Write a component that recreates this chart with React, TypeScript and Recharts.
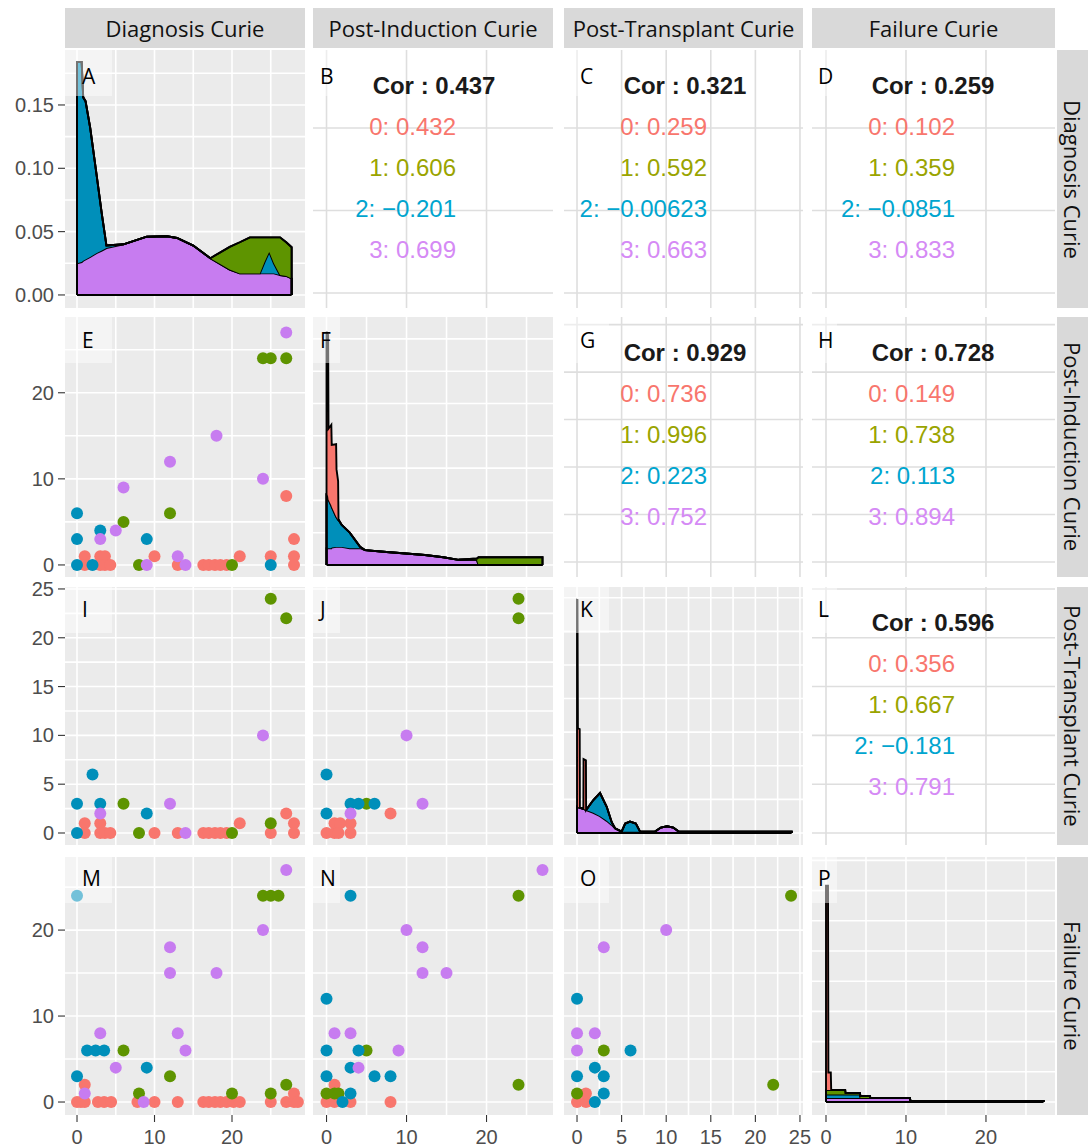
import React from "react";
import { ComposedChart, Scatter, Area, XAxis, YAxis, CartesianGrid, ReferenceLine } from "recharts";

const STRIP_FONT = "'Open Sans', 'Noto Sans', sans-serif";
const NUM_FONT = "'Liberation Sans', Arial, sans-serif";

const groupColors = ["#F8766D", "#5E9400", "#008FBA", "#C77CF0"];
const corColors = ["#F8766D", "#9AA400", "#00A5CF", "#D58AF5"];

const variables = ["Diagnosis Curie", "Post-Induction Curie", "Post-Transplant Curie", "Failure Curie"];
const panelLetters = ["A", "B", "C", "D", "E", "F", "G", "H", "I", "J", "K", "L", "M", "N", "O", "P"];

// panel grid (pixels of the page)
const cols = [
  { left: 65, width: 240 },
  { left: 313, width: 240 },
  { left: 564, width: 239 },
  { left: 812, width: 243 },
];
const rows = [
  { top: 50, height: 258 },
  { top: 317, height: 260 },
  { top: 587, height: 258 },
  { top: 857, height: 258 },
];
const PAD_T = 12;
const PAD_R = 16;
const Y_AXIS_W = 60;
const X_AXIS_H = 36;
const letterLeft = [17, 7, 16, 6];
const letterMid = [26, 23, 22, 21];

// scales of each variable
const colDomain: [number, number][] = [[-1.55, 29.42], [-1.69, 28.31], [-1.46, 25.34], [-1.75, 28.63]];
const colMajor = [[0, 10, 20], [0, 10, 20], [0, 5, 10, 15, 20, 25], [0, 10, 20]];
const colMinor = [[5, 15, 25], [5, 15, 25], [2.5, 7.5, 12.5, 17.5, 22.5], [5, 15, 25]];
const rowDomain: [number, number][] = [[-1.82, 29.45], [-1.4, 28.8], [-1.23, 25.2], [-1.51, 28.5]];
const rowMajor = [[0, 10, 20], [0, 10, 20], [0, 5, 10, 15, 20, 25], [0, 10, 20]];
const rowMinor = [[], [5, 15, 25], [2.5, 7.5, 12.5, 17.5, 22.5], [5, 15, 25]];
const corRowDomain: [number, number][] = [[-1.82, 29.45], [-1.58, 25.8], [-1.23, 25.2]];
const corRowBreaks = [[0, 10, 20], [0, 5, 10, 15, 20, 25], [0, 5, 10, 15, 20, 25]];

// density panels (diagonal)
const diagDomain: [number, number][] = [[-0.0103, 0.1934], [-0.0186, 0.3839], [-0.0179, 0.366], [-0.0215, 0.4056]];
const diagGrid = [
  [0, 0.025, 0.05, 0.075, 0.1, 0.125, 0.15, 0.175],
  [0, 0.05, 0.1, 0.15, 0.2, 0.25, 0.3, 0.35],
  [0, 0.05, 0.1, 0.15, 0.2, 0.25, 0.3, 0.35],
  [0, 0.05, 0.1, 0.15, 0.2, 0.25, 0.3, 0.35, 0.4],
];
const densityTicksA = [0, 0.05, 0.1, 0.15];

const densA_x = [0, 0, 0.6, 0.8, 1.1, 1.7, 2.5, 3.2, 3.8, 6, 9, 11.6, 12.9, 15, 17.2, 19.7, 21.0, 22.3, 23.6, 24.2, 24.8, 25.4, 26.2, 27.0, 27.7, 27.7];
const densA_g3 = [0, 0.025, 0.026, 0.027, 0.028, 0.03, 0.033, 0.035, 0.037, 0.04, 0.046, 0.0463, 0.045, 0.039, 0.029, 0.02, 0.017, 0.017, 0.017, 0.017, 0.017, 0.017, 0.0157, 0.015, 0.013, 0];
const densA_g2 = [0, 0.159, 0.158, 0.129, 0.125, 0.102, 0.063, 0.029, 0.002, 0, 0, 0, 0, 0, 0, 0, 0, 0, 0, 0.009, 0.017, 0.008, 0, 0, 0, 0];
const densA_g1 = [0, 0, 0, 0, 0, 0, 0, 0, 0, 0, 0, 0, 0, 0, 0, 0.018, 0.0246, 0.0285, 0.0285, 0.0195, 0.0115, 0.0205, 0.0298, 0.0266, 0.0247, 0];

const densF_x = [0, 0, 0.2, 0.25, 0.6, 0.65, 1.2, 1.25, 1.45, 1.5, 1.9, 2.9, 4.2, 4.8, 7.5, 12.3, 14.6, 16.5, 18.8, 19.0, 27.0, 27.0];
const densF_g3 = [0, 0.026, 0.026, 0.026, 0.026, 0.027, 0.028, 0.028, 0.028, 0.028, 0.028, 0.026, 0.026, 0.023, 0.02, 0.0155, 0.012, 0.008, 0.008, 0, 0, 0];
const densF_g2 = [0, 0.085, 0.08, 0.075, 0.066, 0.063, 0.047, 0.046, 0.042, 0.042, 0.034, 0.024, 0.002, 0, 0, 0, 0, 0, 0, 0, 0, 0];
const densF_g1 = [0, 0, 0, 0, 0, 0, 0, 0, 0, 0, 0, 0, 0, 0, 0, 0, 0, 0, 0.002, 0.012, 0.012, 0];
const densF_g0 = [0, 0.25, 0.25, 0.11, 0.125, 0.096, 0.112, 0.074, 0.06, 0, 0, 0, 0, 0, 0, 0, 0, 0, 0, 0, 0, 0];

const densK_x = [0, 0, 0.05, 0.1, 0.3, 0.32, 0.71, 0.73, 1.0, 1.02, 1.83, 2.58, 3.33, 3.89, 4.26, 5.0, 5.4, 5.94, 6.6, 7.07, 8.75, 9.4, 10.1, 10.8, 11.4, 24.07, 24.07];
const densK_g3 = [0, 0.039, 0.0388, 0.0387, 0.0375, 0.0374, 0.036, 0.036, 0.034, 0.034, 0.03, 0.025, 0.018, 0.012, 0.007, 0.002, 0.002, 0.002, 0.002, 0.002, 0.002, 0.008, 0.01, 0.008, 0.002, 0.002, 0];
const densK_g2 = [0, 0, 0, 0, 0, 0, 0, 0, 0, 0, 0.019, 0.0345, 0.021, 0.004, 0, 0, 0.012, 0.015, 0.012, 0, 0, 0, 0, 0, 0, 0, 0];
const densK_g0 = [0, 0.308, 0.308, 0.117, 0.117, 0, 0, 0.074, 0.074, 0, 0, 0, 0, 0, 0, 0, 0, 0, 0, 0, 0, 0, 0, 0, 0, 0, 0];

const densP_x = [0, 0, 0.25, 0.3, 0.6, 0.65, 2.4, 2.45, 4.25, 4.3, 5.5, 5.55, 10.5, 10.55, 27.2, 27.2];
const densP_g3 = [0, 0.0066, 0.0066, 0.0066, 0.0066, 0.0066, 0.0066, 0.0066, 0.0066, 0.0066, 0.0066, 0.0066, 0.0066, 0.0017, 0.0017, 0];
const densP_g2 = [0, 0.0058, 0.0058, 0.0058, 0.0058, 0.0058, 0.0058, 0.0058, 0.0058, 0, 0, 0, 0, 0, 0, 0];
const densP_g1 = [0, 0.0075, 0.0075, 0.0075, 0.0075, 0.0075, 0.0075, 0.0025, 0.0025, 0.0033, 0.0033, 0, 0, 0, 0, 0];
const densP_g0 = [0, 0.338, 0.338, 0.029, 0.029, 0, 0, 0, 0, 0, 0, 0, 0, 0, 0, 0];

// scatter panels: [x, y, group]
type Pt = [number, number, number];
const pointsE: Pt[] = [
  [27, 27, 3], [18, 15, 3], [12, 12, 3], [24, 10, 3], [6, 9, 3], [3, 3, 3], [5, 4, 3], [13, 1, 3], [9, 0, 3], [14, 0, 3],
  [24, 24, 1], [25, 24, 1], [27, 24, 1], [6, 5, 1], [12, 6, 1], [8, 0, 1], [20, 0, 1],
  [0, 6, 2], [0, 3, 2], [3, 4, 2], [9, 3, 2], [0, 0, 2], [2, 0, 2], [25, 0, 2],
  [27, 8, 0], [28, 3, 0], [1, 1, 0], [3, 1, 0], [3.6, 1, 0], [10, 1, 0], [21, 1, 0], [25, 1, 0], [28, 1, 0],
  [1, 0, 0], [3, 0, 0], [3.6, 0, 0], [4.3, 0, 0], [13, 0, 0], [16.3, 0, 0], [17, 0, 0], [17.8, 0, 0], [18.5, 0, 0], [19.3, 0, 0], [28, 0, 0],
];
const pointsI: Pt[] = [
  [25, 24, 1], [27, 22, 1], [6, 3, 1], [25, 1, 1], [8, 0, 1], [20, 0, 1],
  [24, 10, 3], [3, 2, 3], [12, 3, 3], [14, 0, 3],
  [2, 6, 2], [0, 3, 2], [3, 3, 2], [9, 2, 2], [0, 0, 2],
  [1, 1, 0], [3, 1, 0], [21, 1, 0], [27, 2, 0], [28, 1, 0], [1, 0, 0], [3, 0, 0], [3.6, 0, 0], [4.3, 0, 0], [10, 0, 0],
  [13, 0, 0], [16.3, 0, 0], [17, 0, 0], [17.8, 0, 0], [18.5, 0, 0], [19.3, 0, 0], [25, 0, 0], [28, 0, 0],
];
const pointsM: Pt[] = [
  [27, 27, 3], [24, 20, 3], [12, 18, 3], [12, 15, 3], [18, 15, 3], [3, 8, 3], [13, 8, 3], [14, 6, 3], [5, 4, 3], [1, 1, 3], [8.6, 0, 3],
  [0, 24, 2], [1.3, 6, 2], [2.4, 6, 2], [3.5, 6, 2], [9, 4, 2], [0, 3, 2],
  [24, 24, 1], [25, 24, 1], [26, 24, 1], [6, 6, 1], [12, 3, 1], [8, 1, 1], [20, 1, 1], [25, 1, 1], [27, 2, 1],
  [1, 2, 0], [28, 1, 0], [0, 0, 0], [0.5, 0, 0], [1, 0, 0], [2.7, 0, 0], [3.5, 0, 0], [4.4, 0, 0], [7.8, 0, 0], [10, 0, 0],
  [13, 0, 0], [16.3, 0, 0], [17, 0, 0], [17.8, 0, 0], [18.5, 0, 0], [19.3, 0, 0], [20.2, 0, 0], [21, 0, 0], [25, 0, 0],
  [27, 0, 0], [28, 0, 0], [28.5, 0, 0],
];
const pointsJ: Pt[] = [
  [24, 24, 1], [24, 22, 1], [5, 3, 1],
  [10, 10, 3], [12, 3, 3], [3, 2, 3],
  [0, 6, 2], [0, 2, 2], [3, 3, 2], [4, 3, 2], [6, 3, 2],
  [8, 2, 0], [3, 1, 0], [3, 0, 0], [0, 0, 0], [1, 0, 0], [1, 1, 0], [1.7, 1, 0], [1.5, 0, 0],
];
const pointsN: Pt[] = [
  [27, 27, 3], [10, 20, 3], [12, 18, 3], [12, 15, 3], [15, 15, 3], [1, 8, 3], [3, 8, 3], [9, 6, 3], [4, 4, 3],
  [3, 24, 2], [0, 12, 2], [0, 6, 2], [4, 6, 2], [3, 4, 2], [0, 3, 2], [6, 3, 2], [8, 3, 2], [3, 1, 2], [2, 0, 2],
  [24, 24, 1], [5, 6, 1], [24, 2, 1], [0, 1, 1], [1, 1, 1], [1.5, 1, 1],
  [1, 2, 0], [0, 0, 0], [1, 0, 0], [3, 0, 0], [8, 0, 0],
];
const pointsO: Pt[] = [
  [24, 24, 1], [3, 6, 1], [22, 2, 1], [0, 1, 1],
  [10, 20, 3], [3, 18, 3], [0, 8, 3], [2, 8, 3], [0, 6, 3],
  [0, 12, 2], [6, 6, 2], [2, 4, 2], [0, 3, 2], [3, 3, 2], [3, 1, 2], [2, 0, 2],
  [0, 0, 0], [1, 0, 0], [1, 1, 0],
];

// correlation panels: overall, then groups 0..3
const corB = ["0.437", "0.432", "0.606", "\u22120.201", "0.699"];
const corC = ["0.321", "0.259", "0.592", "\u22120.00623", "0.663"];
const corD = ["0.259", "0.102", "0.359", "\u22120.0851", "0.833"];
const corG = ["0.929", "0.736", "0.996", "0.223", "0.752"];
const corH = ["0.728", "0.149", "0.738", "0.113", "0.894"];
const corL = ["0.596", "0.356", "0.667", "\u22120.181", "0.791"];

const tickText = { fill: "#4D4D4D", fontSize: 20, fontFamily: NUM_FONT };
const tickLine = { stroke: "#333333", strokeWidth: 1.1 };

type PanelProps = {
  c: number;
  r: number;
  yDomain: [number, number];
  yGrid: number[];
  xGrid: number[];
  yTicks?: number[];
  yFormat?: (v: number) => string;
  data?: any[];
  white?: boolean;
  children?: React.ReactNode;
};

function PanelChart({ c, r, yDomain, yGrid, xGrid, yTicks, yFormat, data, white, children }: PanelProps) {
  const showY = c === 0;
  const showX = r === 3;
  const yW = showY ? Y_AXIS_W : 0;
  const xH = showX ? X_AXIS_H : 0;
  return (
    <div style={{ position: "absolute", left: cols[c].left - yW, top: rows[r].top - PAD_T }}>
      <ComposedChart
        width={cols[c].width + yW + PAD_R}
        height={rows[r].height + xH + PAD_T}
        data={data}
        margin={{ top: PAD_T, right: PAD_R, bottom: 0, left: 0 }}
      >
        <CartesianGrid
          fill={white ? "#FFFFFF" : "#EBEBEB"}
          fillOpacity={1}
          stroke={white ? "#DEDEDE" : "#FFFFFF"}
          strokeWidth={1.6}
          horizontalValues={yGrid}
          verticalValues={xGrid}
        />
        <XAxis
          type="number"
          dataKey="x"
          domain={colDomain[c]}
          allowDataOverflow
          hide={!showX}
          height={xH}
          ticks={colMajor[c]}
          interval={0}
          tickSize={7}
          tickMargin={8}
          axisLine={false}
          tickLine={tickLine}
          tick={tickText}
        />
        <YAxis
          type="number"
          dataKey="y"
          domain={yDomain}
          allowDataOverflow
          hide={!showY}
          width={yW}
          ticks={yTicks}
          interval={0}
          tickFormatter={yFormat}
          tickSize={7}
          tickMargin={4}
          axisLine={false}
          tickLine={tickLine}
          tick={tickText}
        />
        {children}
      </ComposedChart>
    </div>
  );
}

const dotShape = (color: string) => (props: any) => <circle cx={props.cx} cy={props.cy} r={6} fill={color} />;

function ScatterPanel({ c, r, points }: { c: number; r: number; points: Pt[] }) {
  return (
    <PanelChart
      c={c}
      r={r}
      yDomain={rowDomain[r]}
      yGrid={[...rowMajor[r], ...rowMinor[r]]}
      xGrid={[...colMajor[c], ...colMinor[c]]}
      yTicks={rowMajor[r]}
    >
      {[0, 1, 2, 3].map((g) => (
        <Scatter
          key={g}
          data={points.filter((p) => p[2] === g).map((p) => ({ x: p[0], y: p[1] }))}
          isAnimationActive={false}
          shape={dotShape(groupColors[g])}
        />
      ))}
    </PanelChart>
  );
}

function DensityPanel({ i, xs, g0, g1, g2, g3 }: { i: number; xs: number[]; g0?: number[]; g1?: number[]; g2?: number[]; g3?: number[] }) {
  const table = xs.map((x, k) => ({
    x,
    g0: g0 ? g0[k] : 0,
    g1: g1 ? g1[k] : 0,
    g2: g2 ? g2[k] : 0,
    g3: g3 ? g3[k] : 0,
  }));
  return (
    <PanelChart
      c={i}
      r={i}
      data={table}
      yDomain={diagDomain[i]}
      yGrid={diagGrid[i]}
      xGrid={[...colMajor[i], ...colMinor[i]]}
      yTicks={i === 0 ? densityTicksA : undefined}
      yFormat={(v: number) => v.toFixed(2)}
    >
      {["g3", "g2", "g1", "g0"].map((k) => (
        <Area
          key={k}
          type="linear"
          dataKey={k}
          stackId="dens"
          stroke="#000000"
          strokeWidth={1.9}
          fill={groupColors[Number(k[1])]}
          fillOpacity={1}
          dot={false}
          activeDot={false}
          isAnimationActive={false}
        />
      ))}
      <ReferenceLine
        segment={[{ x: xs[0], y: 0 }, { x: xs[xs.length - 1], y: 0 }]}
        stroke="#000000"
        strokeWidth={2}
      />
    </PanelChart>
  );
}

function CorPanel({ c, r, values }: { c: number; r: number; values: string[] }) {
  const left = cols[c].left;
  const top = rows[r].top;
  return (
    <>
      <PanelChart c={c} r={r} white yDomain={corRowDomain[r]} yGrid={corRowBreaks[r]} xGrid={colMajor[c]} />
      <div
        style={{
          position: "absolute", left: left + 121 - 100, width: 200, top: top + 36 - 14, height: 28,
          lineHeight: "28px", textAlign: "center", fontFamily: NUM_FONT, fontWeight: 700, fontSize: 24, color: "#1A1A1A",
        }}
      >
        Cor : {values[0]}
      </div>
      {values.slice(1).map((v, g) => (
        <div
          key={g}
          style={{
            position: "absolute", left: left + 143 - 220, width: 220, top: top + 77 + 41 * g - 14, height: 28,
            lineHeight: "28px", textAlign: "right", fontFamily: NUM_FONT, fontSize: 24, color: corColors[g],
            whiteSpace: "nowrap",
          }}
        >
          {g}: {v}
        </div>
      ))}
    </>
  );
}

export default function App() {
  return (
    <div
      style={{
        position: "absolute", left: 0, top: 0, width: 1088, height: 1148,
        background: "#FFFFFF", overflow: "hidden", fontFamily: STRIP_FONT,
      }}
    >
      {variables.map((v, c) => (
        <div
          key={"top" + c}
          style={{
            position: "absolute", left: cols[c].left, top: 8, width: cols[c].width, height: 40,
            background: "#D9D9D9", display: "flex", alignItems: "center", justifyContent: "center",
            fontSize: 22, color: "#111111", whiteSpace: "nowrap",
          }}
        >
          {v}
        </div>
      ))}
      {variables.map((v, r) => (
        <div
          key={"side" + r}
          style={{
            position: "absolute", left: 1057, top: rows[r].top, width: 31, height: rows[r].height,
            background: "#D9D9D9", display: "flex", alignItems: "center", justifyContent: "center",
            fontSize: 22, color: "#111111", whiteSpace: "nowrap",
          }}
        >
          <span style={{ writingMode: "vertical-rl" }}>{v}</span>
        </div>
      ))}

      <DensityPanel i={0} xs={densA_x} g1={densA_g1} g2={densA_g2} g3={densA_g3} />
      <DensityPanel i={1} xs={densF_x} g0={densF_g0} g1={densF_g1} g2={densF_g2} g3={densF_g3} />
      <DensityPanel i={2} xs={densK_x} g0={densK_g0} g2={densK_g2} g3={densK_g3} />
      <DensityPanel i={3} xs={densP_x} g0={densP_g0} g1={densP_g1} g2={densP_g2} g3={densP_g3} />

      <ScatterPanel c={0} r={1} points={pointsE} />
      <ScatterPanel c={0} r={2} points={pointsI} />
      <ScatterPanel c={1} r={2} points={pointsJ} />
      <ScatterPanel c={0} r={3} points={pointsM} />
      <ScatterPanel c={1} r={3} points={pointsN} />
      <ScatterPanel c={2} r={3} points={pointsO} />

      <CorPanel c={1} r={0} values={corB} />
      <CorPanel c={2} r={0} values={corC} />
      <CorPanel c={3} r={0} values={corD} />
      <CorPanel c={2} r={1} values={corG} />
      <CorPanel c={3} r={1} values={corH} />
      <CorPanel c={3} r={2} values={corL} />

      {panelLetters.map((l, k) => {
        const r = Math.floor(k / 4);
        const c = k % 4;
        return (
          <React.Fragment key={l}>
            <div
              style={{
                position: "absolute", left: cols[c].left, top: rows[r].top,
                width: letterLeft[c] * 2 + 13, height: 46, background: "rgba(255,255,255,0.45)",
              }}
            />
            <div
              style={{
                position: "absolute", left: cols[c].left + letterLeft[c], top: rows[r].top + letterMid[r] - 12,
                height: 24, lineHeight: "24px", fontSize: 21, color: "#000000",
              }}
            >
              {l}
            </div>
          </React.Fragment>
        );
      })}
    </div>
  );
}
